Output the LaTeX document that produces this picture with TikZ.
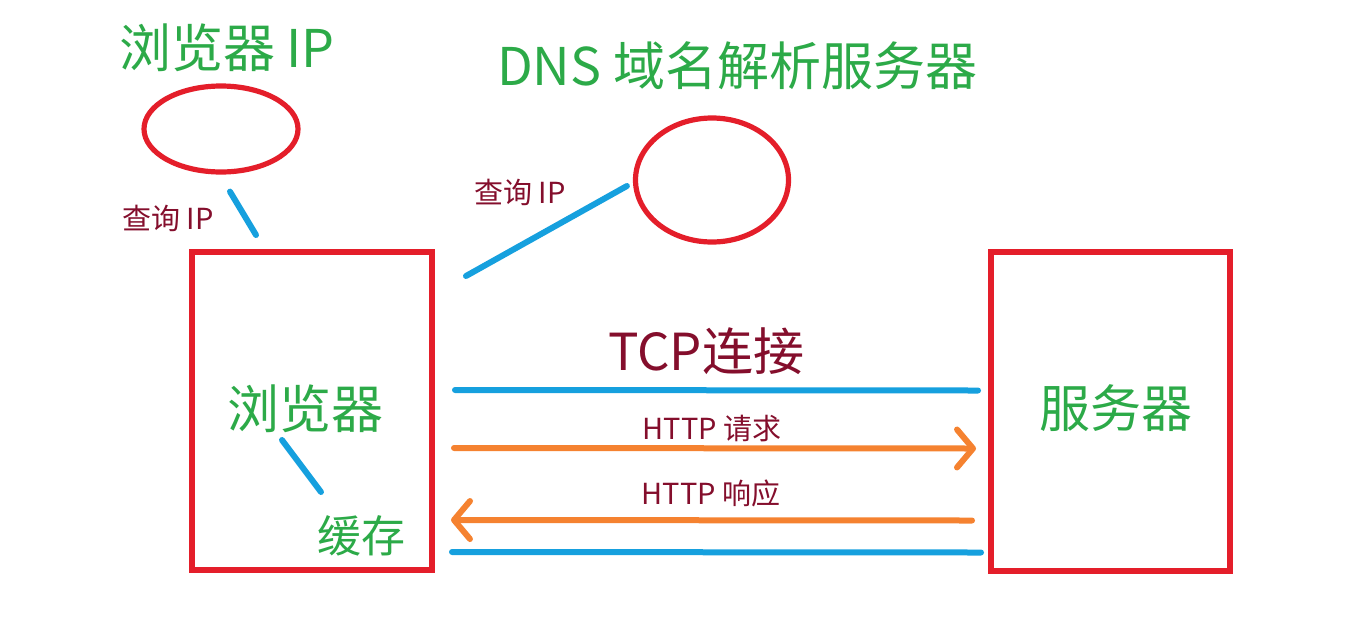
\documentclass[tikz,border=0pt]{standalone}
\usepackage{fontspec}
\newfontfamily\cjk{Noto Sans CJK SC}
\usepackage{xcolor}
\definecolor{boxred}{RGB}{228,30,42}
\definecolor{labelgreen}{RGB}{44,170,72}
\definecolor{linkblue}{RGB}{22,160,222}
\definecolor{msgorange}{RGB}{245,130,48}
\definecolor{textred}{RGB}{132,14,44}
\usepackage{tikz}
\usetikzlibrary{shapes.geometric,arrows.meta,positioning,calc}

\begin{document}
\begin{tikzpicture}[
  x=0.5pt, y=-0.5pt,
  every node/.style={font=\cjk, inner sep=0pt},
  hostbox/.style={rectangle, draw=boxred, line width=3pt,
                  minimum width=120pt, minimum height=159pt},
  lookup/.style={ellipse, draw=boxred, line width=2.6pt},
  bigtext/.style={text=labelgreen, font=\cjk\fontsize{26pt}{30pt}\selectfont},
  smalltext/.style={text=textred, font=\cjk\fontsize{14.5pt}{17pt}\selectfont},
  link/.style={draw=linkblue, line width=3pt, line cap=round},
  msg/.style={draw=msgorange, line width=3pt, line cap=round,
              -{Straight Barb[length=8pt, width=19pt, round]}}
]
  \useasboundingbox (0,0) rectangle (1368,632);

  \node[hostbox] (br) at (312,411) {};
  \node[hostbox, minimum width=119.5pt, minimum height=159.5pt] (sv) at (1110.5,411.5) {};
  \node[lookup, minimum width=77pt, minimum height=43pt] (ip) at (221,129) {};
  \node[lookup, minimum width=76.5pt, minimum height=62pt] (dns) at (712,180) {};

  \node[bigtext] (iptitle) at (227,48) {浏览器 IP};
  \node[bigtext] (dnstitle) at (737,66) {DNS 域名解析服务器};
  \node[bigtext] (brtext) at (305,409) {浏览器};
  \node[bigtext, font=\cjk\fontsize{22pt}{26pt}\selectfont] (cache) at (361,536) {缓存};
  \node[bigtext, font=\cjk\fontsize{25.5pt}{30pt}\selectfont] (svtext) at (1116,408) {服务器};

  \node[smalltext] (ask1) at (168,218) {查询 IP};
  \node[smalltext] (ask2) at (520,192) {查询 IP};
  \node[textred, font=\cjk\fontsize{25.5pt}{30pt}\selectfont] (tcp) at (706,351) {TCP连接};
  \node[smalltext] (req) at (712,428) {HTTP 请求};
  \node[smalltext] (resp) at (711,493) {HTTP 响应};

  \draw[link] ($(ip.south)+(9,17)$) -- ($(br.north)+(-56,-14)$);
  \draw[link] ($(br.north east)+(31,27)$) -- ($(dns.west)+(-6,6)$);
  \draw[link] ($(brtext)+(-23,31)$) -- ($(cache)+(-40,-44)$);

  \draw[link] ($(br.east)+(20,-21)$) -- ($(sv.west)+(-10,-21)$);
  \draw[msg] ($(br.east)+(19,37)$) -- ($(sv.west)+(-12,37)$);
  \draw[msg] ($(sv.west)+(-16,109)$) -- ($(br.east)+(16,109)$);
  \draw[link] ($(br.east)+(17,141)$) -- ($(sv.west)+(-7,141)$);
\end{tikzpicture}
\end{document}
